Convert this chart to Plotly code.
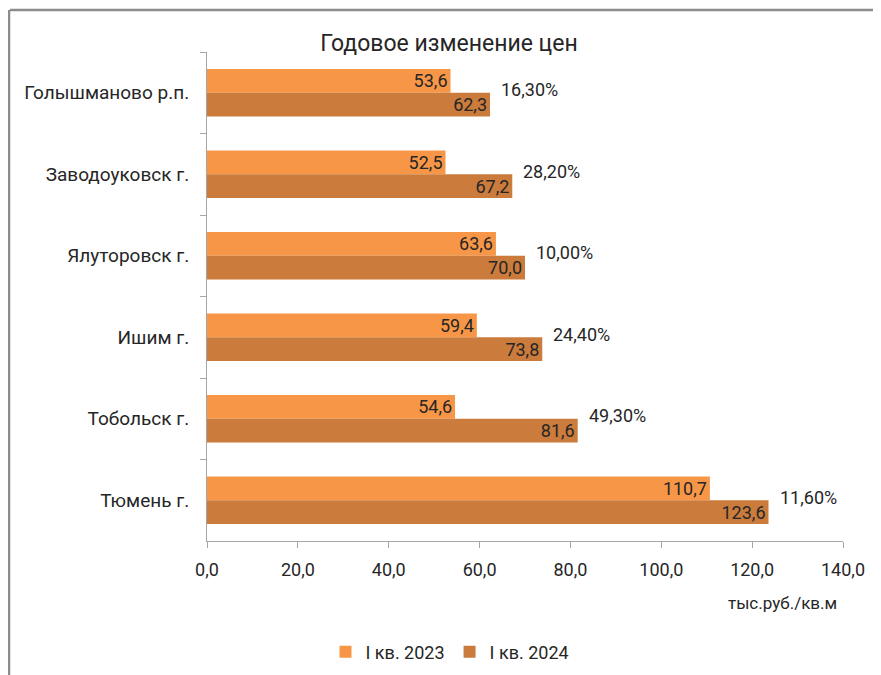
import plotly.graph_objects as go

categories = ["Голышманово р.п.", "Заводоуковск г.", "Ялуторовск г.", "Ишим г.", "Тобольск г.", "Тюмень г."]
v2023 = [53.6, 52.5, 63.6, 59.4, 54.6, 110.7]
v2024 = [62.3, 67.2, 70.0, 73.8, 81.6, 123.6]
pct = ["16,30%", "28,20%", "10,00%", "24,40%", "49,30%", "11,60%"]
xticks = [0, 20, 40, 60, 80, 100, 120, 140]
series_names = ["I кв. 2023", "I кв. 2024"]

FONT = "Roboto"
C23 = "#F79646"
C24 = "#CB7B3B"
TXT = "#262626"

# page body has a default 8px margin; compensate
OX, OY = 8, 8
W, H = 881 - OX, 675 - OY

def fmt(v):
    return f"{v:.1f}".replace(".", ",")

fig = go.Figure()
for name, vals, col in [(series_names[0], v2023, C23), (series_names[1], v2024, C24)]:
    fig.add_trace(go.Bar(
        y=categories, x=vals, name=name, orientation="h",
        marker=dict(color=col, line=dict(width=0)),
        text=[fmt(v) for v in vals], textposition="inside", insidetextanchor="end",
        textfont=dict(family=FONT, size=18, color=TXT), textangle=0,
        constraintext="none", cliponaxis=False,
    ))

for c, v, p in zip(categories, v2024, pct):
    fig.add_annotation(x=v, y=c, text=p, showarrow=False, xanchor="left", yanchor="middle",
                       xshift=9, yshift=3, font=dict(family=FONT, size=18, color=TXT))

fig.add_annotation(xref="paper", yref="paper", x=1, y=-0.127, text="тыс.руб./кв.м", showarrow=False,
                   xanchor="right", yanchor="middle", xshift=-4, font=dict(family=FONT, size=17, color=TXT))

# frame (top and left border lines)
fig.add_shape(type="line", xref="paper", yref="paper", x0=-0.310, x1=1.1, y0=1.0859, y1=1.0859,
              line=dict(color="#8C8C8C", width=2.5))
fig.add_shape(type="line", xref="paper", yref="paper", x0=-0.3113, x1=-0.3113, y0=1.0859, y1=-0.3,
              line=dict(color="#8C8C8C", width=2.5))

fig.update_layout(
    width=W, height=H,
    margin=dict(l=207 - OX, r=38, t=52 - OY, b=134, autoexpand=False),
    paper_bgcolor="white", plot_bgcolor="white",
    barmode="group", bargap=0.42, bargroupgap=0,
    font=dict(family=FONT, size=18, color=TXT),
    title=dict(text="Годовое изменение цен", x=(449 - OX) / W, xanchor="center", y=1 - (43 - OY) / H,
               yanchor="middle", font=dict(family=FONT, size=23, color=TXT)),
    legend=dict(orientation="h", x=(450 - 207) / 636, xanchor="center", y=(541 - 652) / 489, yanchor="middle",
                font=dict(family=FONT, size=18, color=TXT), itemwidth=30, traceorder="normal"),
    showlegend=True,
)
fig.update_xaxes(range=[0, 140], tickvals=xticks, ticktext=[fmt(t) for t in xticks],
                 showgrid=False, zeroline=False, showline=True, linecolor="#A6A6A6", linewidth=1,
                 ticks="outside", ticklen=6, tickcolor="#A6A6A6", ticklabelstandoff=6, automargin=False,
                 tickfont=dict(family=FONT, size=18, color=TXT))
fig.update_yaxes(autorange="reversed", showgrid=False, showline=True, linecolor="#A6A6A6", linewidth=1,
                 ticks="outside", ticklen=6, tickcolor="#A6A6A6", tickson="boundaries",
                 ticklabelstandoff=13, automargin=False,
                 tickfont=dict(family=FONT, size=19, color=TXT))

fig.write_html("out.html")
